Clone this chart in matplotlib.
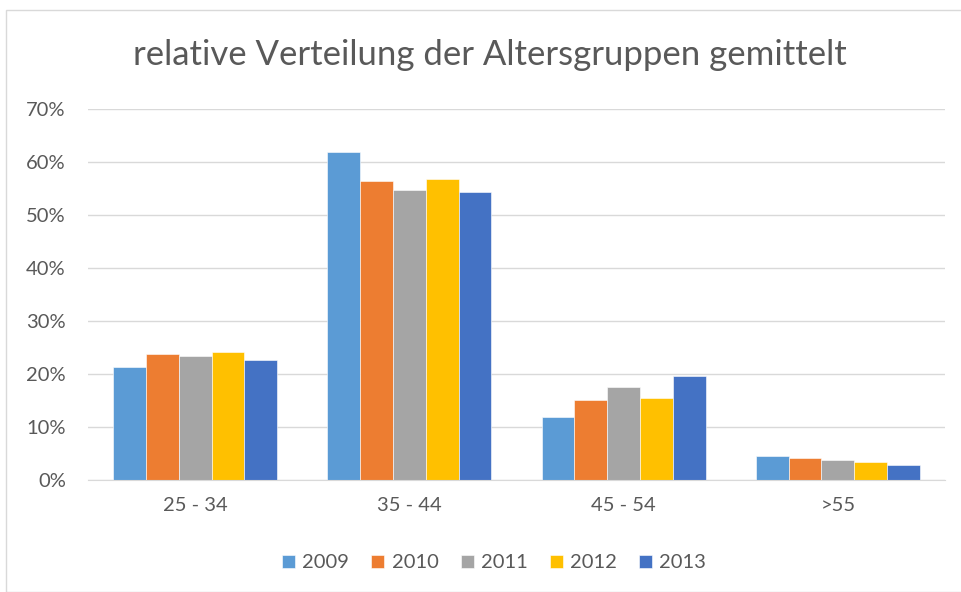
import matplotlib.pyplot as plt
import numpy as np
from matplotlib.patches import Rectangle
from matplotlib.ticker import PercentFormatter

# Data
categories = ["25 - 34", "35 - 44", "45 - 54", ">55"]
years = ["2009", "2010", "2011", "2012", "2013"]
values_2009 = [21.3, 61.8, 11.8, 4.6]
values_2010 = [23.8, 56.4, 15.1, 4.2]
values_2011 = [23.4, 54.8, 17.6, 3.8]
values_2012 = [24.1, 56.7, 15.4, 3.4]
values_2013 = [22.6, 54.4, 19.7, 2.9]
series = [values_2009, values_2010, values_2011, values_2012, values_2013]
colors = ["#5B9BD5", "#ED7D31", "#A5A5A5", "#FFC000", "#4472C4"]

text_color = "#595959"
grid_color = "#D9D9D9"

plt.rcParams['font.family'] = ['Lato', 'DejaVu Sans']

fig = plt.figure(figsize=(9.62, 5.92), dpi=100)
# outer chart border
fig.patches.append(Rectangle((6 / 962, 0), 1, 1 - 10 / 592, transform=fig.transFigure,
                             fill=False, edgecolor=grid_color, linewidth=1))

ax = fig.add_axes([88 / 962, 1 - 480 / 592, (945 - 88) / 962, (480 - 109) / 592])

x = np.arange(len(categories))
bar_w = 0.153
for i, (vals, year, c) in enumerate(zip(series, years, colors)):
    offset = (i - 2) * bar_w
    ax.bar(x + offset, vals, width=bar_w, color=c, label=year,
           edgecolor="white", linewidth=0.4, zorder=3)

ax.set_xlim(-0.5, 3.5)
ax.set_ylim(0, 70)
ax.set_yticks(np.arange(0, 71, 10))
ax.yaxis.set_major_formatter(PercentFormatter(decimals=0))
ax.set_xticks(x)
ax.set_xticklabels(categories)
ax.tick_params(length=0, colors=text_color, labelsize=14.5)
ax.tick_params(axis='y', pad=16)
ax.tick_params(axis='x', pad=12)
ax.grid(axis='y', color=grid_color, linewidth=1, zorder=0)
for s in ["top", "right", "left"]:
    ax.spines[s].set_visible(False)
ax.spines["bottom"].set_color(grid_color)
ax.spines["bottom"].set_zorder(4)

fig.text(490 / 962, 1 - 55 / 592, "relative Verteilung der Altersgruppen gemittelt",
         ha="center", va="center", fontsize=25, color=text_color)

fig.legend(loc="center", bbox_to_anchor=(494 / 962, 1 - 563 / 592), ncol=5,
           frameon=False, fontsize=14.5, labelcolor=text_color,
           handlelength=0.65, handleheight=0.65, handletextpad=0.35, columnspacing=1.1)

fig.savefig("out.png", dpi=100)
